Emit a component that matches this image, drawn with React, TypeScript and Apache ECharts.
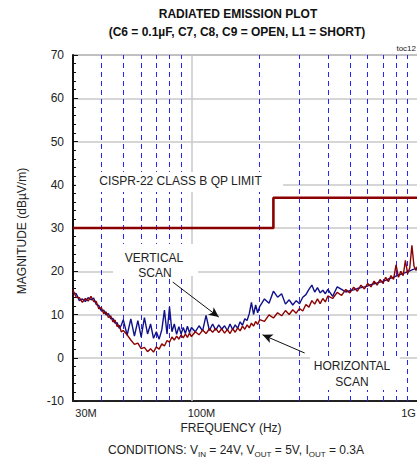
import React, { useEffect, useRef } from 'react';
import * as echarts from 'echarts';

// Sample frequencies (MHz)
const FREQ_MHZ = [
  30, 31, 32, 33, 34, 35, 36, 37, 38, 39, 40, 41, 42, 43, 44, 45, 46, 47, 48, 49, 50,
  52, 54, 56, 58, 60, 62, 64, 66, 68, 70, 72, 74, 76, 78, 80, 82, 84, 86, 88, 90, 92, 94, 96, 98, 100,
  104, 108, 112, 116, 120, 124, 128, 132, 136, 140, 144, 148, 152, 156, 160, 164, 168, 172, 176, 180, 184, 188, 192, 196, 200,
  210, 220, 230, 240, 250, 260, 270, 280, 290, 300, 310, 320, 330, 340, 350, 360, 370, 380, 390, 400,
  420, 440, 460, 480, 500, 520, 540, 560, 580, 600, 620, 640, 660, 680, 700, 720, 740, 760, 780, 800,
  820, 840, 860, 880, 900, 920, 940, 960, 980, 1000,
];

// Vertical-scan magnitude (dBµV/m)
const VERTICAL_SCAN = [
  15.0, 14.8, 13.2, 13.6, 13.0, 13.9, 13.4, 13.8, 12.3, 12.1, 10.8, 11.0, 9.9, 10.2, 9.0, 9.1, 8.0, 8.1, 6.8, 7.5, 8.8,
  5.2, 9.0, 5.0, 8.6, 4.8, 9.3, 5.5, 7.8, 4.5, 6.0, 4.3, 6.5, 11.0, 5.5, 11.8, 6.0, 7.8, 5.4, 7.2, 5.5, 7.0, 5.6, 7.3, 5.8, 7.0,
  6.0, 7.4, 6.2, 9.8, 6.3, 7.8, 6.4, 7.6, 6.6, 7.4, 6.3, 7.8, 6.5, 7.6, 6.8, 8.3, 7.5, 9.0, 8.6, 10.2, 12.8, 10.0, 12.2, 10.4, 11.8,
  13.6, 12.6, 15.4, 14.0, 14.8, 12.4, 13.4, 12.2, 13.2, 12.5, 14.0, 14.6, 15.8, 16.8, 15.2, 16.2, 15.0, 15.6, 14.8, 15.8,
  14.2, 16.4, 15.8, 15.2, 15.5, 15.7, 16.0, 16.2, 16.4, 16.6, 16.9, 17.1, 17.3, 17.5, 17.7, 17.9, 18.2, 18.4, 18.6, 18.9,
  19.1, 19.3, 19.5, 19.7, 19.9, 20.1, 20.3, 20.5, 20.7, 20.9,
];

// Horizontal-scan magnitude (dBµV/m)
const HORIZONTAL_SCAN = [
  15.6, 14.0, 13.9, 12.8, 13.7, 13.1, 14.2, 13.0, 13.0, 11.3, 11.6, 10.2, 10.6, 9.3, 9.7, 8.3, 8.7, 7.2, 7.5, 6.0, 6.3,
  5.3, 4.1, 3.1, 3.4, 2.1, 2.4, 1.4, 2.1, 1.3, 2.5, 2.0, 3.2, 2.7, 4.0, 3.6, 4.8, 4.1, 5.0, 4.3, 5.3, 4.6, 5.5, 4.7, 5.7, 4.9,
  6.0, 5.3, 6.4, 5.6, 6.7, 5.9, 6.8, 5.8, 6.7, 5.7, 6.5, 5.6, 6.7, 5.9, 6.9, 6.2, 7.3, 6.6, 7.6, 6.9, 8.0, 7.3, 8.4, 7.7, 8.8,
  8.4, 9.9, 9.2, 10.4, 9.7, 10.9, 10.0, 11.1, 10.3, 11.4, 10.8, 12.3, 11.7, 13.2, 12.4, 13.6, 12.5, 13.7, 12.9, 14.3,
  13.7, 15.1, 14.4, 15.8, 15.0, 16.3, 15.4, 16.8, 15.9, 17.2, 16.4, 17.7, 16.8, 18.1, 17.2, 18.6, 17.6, 19.0, 18.1, 21.5,
  18.6, 20.0, 19.0, 22.5, 19.4, 20.8, 26.0, 21.2, 20.2, 21.4,
];

// CISPR-22 Class B QP limit
const LIMIT_FREQ_MHZ = [30, 230, 230, 1000];
const LIMIT_DB = [30, 30, 37, 37];

// Vertical grid lines (MHz)
const MINOR_GRID_MHZ = [40, 50, 60, 70, 80, 90, 200, 300, 400, 500, 600, 700, 800, 900];
const MAJOR_GRID_MHZ = [100];

// Axis ticks
const X_TICKS_MHZ = [30, 100, 1000];
const X_TICK_LABELS = ['30M', '100M', '1G'];
const Y_MIN = -10;
const Y_MAX = 70;
const Y_STEP = 10;

// Annotation arrows [fromMHz, fromDb, toMHz, toDb]
const ARROWS = [
  [82.7, 17.5, 132, 9.4],
  [316, 1.1, 206, 5.3],
];

const FONT = '"Liberation Sans", Arial, Helvetica, sans-serif';
const RED = '#8b0000';
const BLUE = '#10108a';

const pairs = (f: number[], v: number[]) => f.map((m, i) => [m * 1e6, v[i]]);

function buildOption() {
  const labelKey = (v: number) => {
    const l = Math.log10(v);
    if (l < 7.8) return 0;
    if (l < 8.5) return 1;
    return 2;
  };
  return {
    animation: false,
    backgroundColor: '#ffffff',
    textStyle: { fontFamily: FONT },
    grid: {
      left: 73, top: 55, right: -1, bottom: 63,
      containLabel: false,
      outerBoundsMode: 'none',
      show: true, borderColor: '#555', borderWidth: 1, backgroundColor: 'transparent',
    },
    xAxis: {
      type: 'log', logBase: 10, min: 3e7, max: 1e9,
      axisLine: { show: true, onZero: false, lineStyle: { color: '#222', width: 2 } },
      axisTick: { show: false },
      minorTick: { show: false },
      splitLine: { show: false },
      axisLabel: {
        customValues: X_TICKS_MHZ.map((m) => m * 1e6),
        margin: 6,
        color: '#222',
        fontSize: 11,
        fontFamily: FONT,
        formatter: (v: number) => {
          const k = labelKey(v);
          return `{${['a', 'b', 'c'][k]}|${X_TICK_LABELS[k]}}`;
        },
        rich: {
          a: { fontSize: 11, fontFamily: FONT, color: '#222', padding: [0, 0, 0, 26] },
          b: { fontSize: 11, fontFamily: FONT, color: '#222', padding: [0, 0, 0, 20] },
          c: { fontSize: 11, fontFamily: FONT, color: '#222', padding: [0, 19, 0, 0] },
        },
      },
    },
    yAxis: {
      type: 'value', min: Y_MIN, max: Y_MAX, interval: Y_STEP,
      axisLine: { show: true, onZero: false, lineStyle: { color: '#111', width: 2 } },
      axisTick: { show: true, inside: true, length: 5, lineStyle: { color: '#111', width: 1 } },
      minorTick: { show: true, splitNumber: 5, length: 3, lineStyle: { color: '#111', width: 1 } },
      splitLine: { show: true, lineStyle: { color: '#c8c8c8', width: 1.5 } },
      axisLabel: { color: '#222', fontSize: 12, margin: 9, fontFamily: FONT },
    },
    series: [
      {
        name: 'VERTICAL SCAN',
        type: 'line',
        data: pairs(FREQ_MHZ, VERTICAL_SCAN),
        showSymbol: false,
        symbol: 'none',
        lineStyle: { color: BLUE, width: 1.4 },
        itemStyle: { color: BLUE },
        z: 2,
        silent: true,
      },
      {
        name: 'HORIZONTAL SCAN',
        type: 'line',
        data: pairs(FREQ_MHZ, HORIZONTAL_SCAN),
        showSymbol: false,
        symbol: 'none',
        lineStyle: { color: RED, width: 1.4 },
        itemStyle: { color: RED },
        z: 3,
        silent: true,
        markLine: {
          silent: true,
          symbol: ['none', 'arrow'],
          symbolSize: [7, 10],
          label: { show: false },
          lineStyle: { color: '#111', width: 1, type: 'solid' },
          itemStyle: { color: '#111' },
          z: 6,
          data: ARROWS.map((a) => [
            { coord: [a[0] * 1e6, a[1]] },
            { coord: [a[2] * 1e6, a[3]] },
          ]),
        },
      },
      {
        name: 'LIMIT',
        type: 'line',
        data: pairs(LIMIT_FREQ_MHZ, LIMIT_DB),
        showSymbol: false,
        symbol: 'none',
        lineStyle: { color: RED, width: 2.6 },
        itemStyle: { color: RED },
        z: 4,
        silent: true,
        markLine: {
          silent: true,
          symbol: 'none',
          label: { show: false },
          z: 1,
          data: [
            ...MINOR_GRID_MHZ.map((m) => ({
              xAxis: m * 1e6,
              lineStyle: { color: '#2424ff', type: [5, 4], width: 1 },
            })),
            ...MAJOR_GRID_MHZ.map((m) => ({
              xAxis: m * 1e6,
              lineStyle: { color: '#c8c8c8', type: 'solid', width: 1.5 },
            })),
          ],
        },
      },
    ],
    graphic: [
      { type: 'text', x: 238, y: 14, z: 60, style: { text: 'RADIATED EMISSION PLOT', font: `bold 12px ${FONT}`, fill: '#111', align: 'center', verticalAlign: 'middle' } },
      { type: 'text', x: 237, y: 32, z: 60, style: { text: '(C6 = 0.1µF, C7, C8, C9 = OPEN, L1 = SHORT)', font: `bold 12px ${FONT}`, fill: '#111', align: 'center', verticalAlign: 'middle' } },
      { type: 'text', x: 416, y: 48, z: 60, style: { text: 'toc12', font: `8px ${FONT}`, fill: '#222', align: 'right', verticalAlign: 'middle' } },
      { type: 'text', x: 22, y: 231, rotation: Math.PI / 2, z: 60, style: { text: 'MAGNITUDE (dBµV/m)', font: `12px ${FONT}`, fill: '#222', align: 'center', verticalAlign: 'middle' } },
      { type: 'text', x: 231, y: 428, z: 60, style: { text: 'FREQUENCY (Hz)', font: `12px ${FONT}`, fill: '#222', align: 'center', verticalAlign: 'middle' } },
      {
        type: 'text', x: 236, y: 450, z: 60,
        style: {
          text: '{n|CONDITIONS: V}{s|IN}{n| = 24V, V}{s|OUT}{n| = 5V, I}{s|OUT}{n| = 0.3A}',
          align: 'center', verticalAlign: 'middle',
          rich: {
            n: { fontSize: 12, fontFamily: FONT, fill: '#222' },
            s: { fontSize: 8, fontFamily: FONT, fill: '#222', padding: [8, 0, 0, 0] },
          },
        },
      },
      // masking boxes behind annotations
      { type: 'rect', z: 50, shape: { x: 76, y: 172, width: 207, height: 20 }, style: { fill: '#ffffff' } },
      { type: 'rect', z: 50, shape: { x: 113, y: 244, width: 85, height: 32 }, style: { fill: '#ffffff' } },
      { type: 'rect', z: 50, shape: { x: 310, y: 356, width: 90, height: 34 }, style: { fill: '#ffffff' } },
      { type: 'text', x: 180.5, y: 181, z: 60, style: { text: 'CISPR-22 CLASS B QP LIMIT', font: `12px ${FONT}`, fill: '#222', align: 'center', verticalAlign: 'middle' } },
      { type: 'text', x: 154, y: 257.5, z: 60, style: { text: 'VERTICAL', font: `12px ${FONT}`, fill: '#222', align: 'center', verticalAlign: 'middle' } },
      { type: 'text', x: 155, y: 272.5, z: 60, style: { text: 'SCAN', font: `12px ${FONT}`, fill: '#222', align: 'center', verticalAlign: 'middle' } },
      { type: 'text', x: 352, y: 366, z: 60, style: { text: 'HORIZONTAL', font: `12px ${FONT}`, fill: '#222', align: 'center', verticalAlign: 'middle' } },
      { type: 'text', x: 352, y: 382, z: 60, style: { text: 'SCAN', font: `12px ${FONT}`, fill: '#222', align: 'center', verticalAlign: 'middle' } },
    ],
  };
}

export default function App() {
  const ref = useRef<HTMLDivElement>(null);
  useEffect(() => {
    if (!ref.current) return;
    const chart = echarts.init(ref.current, null, { renderer: 'svg' });
    chart.setOption(buildOption() as any);
    return () => chart.dispose();
  }, []);
  return (
    <div
      ref={ref}
      style={{ position: 'absolute', left: 0, top: 0, width: 417, height: 464, background: '#fff' }}
    />
  );
}
